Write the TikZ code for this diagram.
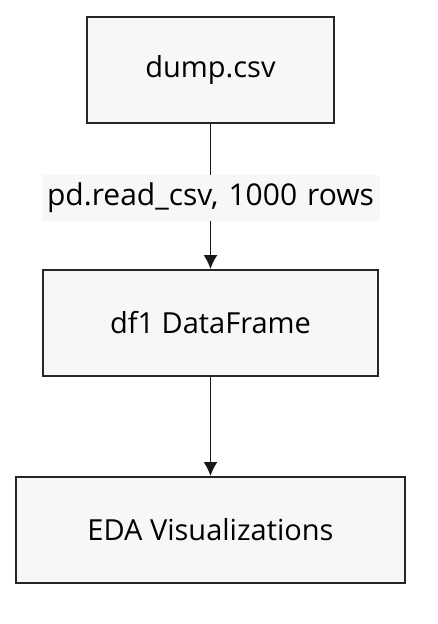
\documentclass[tikz,border=0pt]{standalone}
\usepackage{fontspec}
\setmainfont{Open Sans}
\usetikzlibrary{arrows.meta}
\begin{document}
\begin{tikzpicture}[x=1pt,y=-1pt]
			% Styles
			\tikzstyle{fleche}=[-{Latex[length=14pt,width=14pt]},line width=1.5pt,draw=black!90]
			\tikzstyle{boite}=[draw=black!85,line width=2pt,fill=black!3,font=\fontsize{29}{34}\selectfont,inner sep=0pt]
			\tikzstyle{etiquette}=[fill=black!3,font=\fontsize{30}{34}\selectfont,inner sep=0pt,minimum height=46pt,text width=338pt,align=center]
			% Dimensions
			\def\Milieu{210.5}
			\def\HauteurBoite{106}
			% Cadre
			\useasboundingbox (0,0) rectangle (438,624);
			% Noeuds
			\node[boite,minimum width=247pt,minimum height=\HauteurBoite pt] (csv) at (\Milieu,70) {dump.csv};
			\node[boite,minimum width=335pt,minimum height=\HauteurBoite pt] (df) at (\Milieu,323) {df1 DataFrame};
			\node[boite,minimum width=389pt,minimum height=\HauteurBoite pt] (eda) at (\Milieu,530) {EDA Visualizations};
			% Arcs
			\draw[fleche] (csv)--(df) node[etiquette,pos=0.51] (lecture) {pd.read\_csv, 1000 rows};
			\draw[fleche] (df)--(eda);
		\end{tikzpicture}
\end{document}
